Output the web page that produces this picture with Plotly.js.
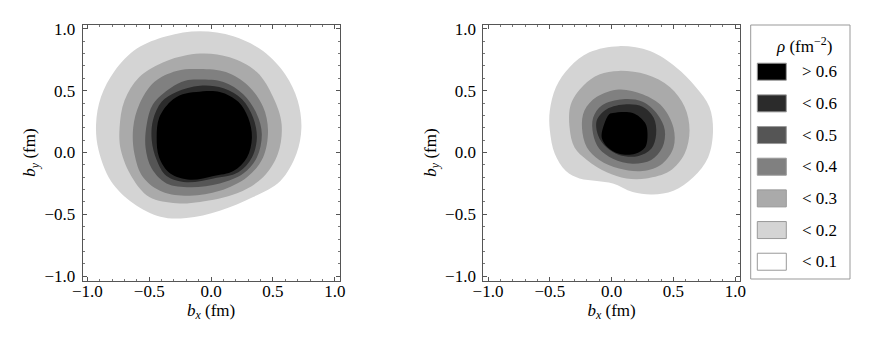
<!DOCTYPE html>
<html>
<head>
<meta charset="utf-8">
<script src="https://cdn.plot.ly/plotly-3.0.1.min.js"></script>
<style>
  body { margin: 0; background: white; }
  #chart { width: 872px; height: 339px; }
</style>
</head>
<body>
<div id="chart"></div>
<script>
// contour boundaries, [bx, by] in fm
// left panel
var leftRho01 = [[-0.09,0.98],[0.18,0.94],[0.42,0.82],[0.60,0.63],[0.70,0.42],[0.73,0.20],[0.69,-0.01],[0.56,-0.23],[0.34,-0.36],[0.07,-0.47],[-0.20,-0.53],[-0.41,-0.52],[-0.63,-0.41],[-0.81,-0.23],[-0.91,0.02],[-0.93,0.23],[-0.89,0.45],[-0.78,0.66],[-0.60,0.84],[-0.36,0.94]];
var leftRho02 = [[-0.09,0.80],[0.15,0.77],[0.37,0.65],[0.50,0.45],[0.57,0.23],[0.54,-0.01],[0.42,-0.20],[0.21,-0.33],[-0.09,-0.40],[-0.28,-0.41],[-0.50,-0.36],[-0.64,-0.20],[-0.73,0.02],[-0.74,0.20],[-0.70,0.42],[-0.58,0.61],[-0.36,0.74]];
var leftRho03 = [[-0.09,0.675],[0.12,0.65],[0.30,0.54],[0.42,0.37],[0.46,0.18],[0.42,-0.04],[0.29,-0.20],[0.07,-0.31],[-0.17,-0.35],[-0.39,-0.32],[-0.55,-0.20],[-0.62,-0.01],[-0.63,0.20],[-0.58,0.39],[-0.46,0.57],[-0.28,0.66]];
var leftRho04 = [[-0.09,0.59],[0.10,0.57],[0.26,0.47],[0.37,0.31],[0.41,0.15],[0.37,-0.04],[0.26,-0.17],[0.07,-0.25],[-0.17,-0.28],[-0.36,-0.25],[-0.48,-0.13],[-0.53,0.04],[-0.52,0.23],[-0.47,0.39],[-0.33,0.52],[-0.21,0.58]];
var leftRho05 = [[-0.09,0.54],[0.10,0.52],[0.25,0.43],[0.34,0.28],[0.37,0.12],[0.33,-0.04],[0.22,-0.16],[0.02,-0.21],[-0.20,-0.24],[-0.36,-0.19],[-0.44,-0.06],[-0.48,0.10],[-0.47,0.26],[-0.40,0.41],[-0.28,0.49]];
var leftRho06 = [[-0.12,0.49],[0.07,0.49],[0.22,0.41],[0.30,0.28],[0.33,0.12],[0.29,-0.04],[0.18,-0.15],[0.02,-0.19],[-0.17,-0.22],[-0.33,-0.17],[-0.42,-0.04],[-0.44,0.12],[-0.42,0.28],[-0.33,0.41],[-0.23,0.47]];
// right panel
var rightRho01 = [[0.06,0.86],[0.31,0.82],[0.52,0.69],[0.68,0.53],[0.79,0.37],[0.82,0.18],[0.78,-0.04],[0.66,-0.20],[0.50,-0.31],[0.33,-0.34],[0.17,-0.32],[0.01,-0.25],[-0.12,-0.23],[-0.26,-0.21],[-0.37,-0.15],[-0.46,-0.01],[-0.50,0.18],[-0.50,0.34],[-0.45,0.53],[-0.34,0.69],[-0.18,0.81]];
var rightRho02 = [[0.06,0.66],[0.28,0.63],[0.47,0.53],[0.59,0.37],[0.63,0.18],[0.59,-0.01],[0.47,-0.15],[0.28,-0.21],[0.12,-0.21],[-0.04,-0.16],[-0.20,-0.06],[-0.30,0.04],[-0.34,0.20],[-0.33,0.39],[-0.23,0.54],[-0.10,0.63]];
var rightRho03 = [[0.06,0.51],[0.25,0.47],[0.41,0.37],[0.50,0.20],[0.50,0.04],[0.41,-0.09],[0.25,-0.15],[0.06,-0.13],[-0.10,-0.06],[-0.20,0.04],[-0.24,0.20],[-0.22,0.34],[-0.12,0.45]];
var rightRho04 = [[0.09,0.43],[0.25,0.41],[0.37,0.31],[0.43,0.18],[0.41,0.04],[0.32,-0.06],[0.17,-0.09],[0.01,-0.05],[-0.10,0.03],[-0.15,0.15],[-0.15,0.28],[-0.08,0.38]];
var rightRho05 = [[0.12,0.39],[0.25,0.37],[0.34,0.28],[0.36,0.15],[0.32,0.03],[0.21,-0.03],[0.06,-0.02],[-0.04,0.04],[-0.11,0.14],[-0.12,0.26],[-0.04,0.35]];
var rightRho06 = [[0.01,0.32],[0.17,0.32],[0.27,0.24],[0.29,0.15],[0.27,0.04],[0.19,-0.01],[0.06,-0.01],[-0.03,0.04],[-0.08,0.12],[-0.06,0.23],[-0.02,0.31]];

var axisTicks = [-1, -0.5, 0, 0.5, 1];
var legendLabels = ['> 0.6', '< 0.6', '< 0.5', '< 0.4', '< 0.3', '< 0.2', '< 0.1'];

// fill shades, lowest level first
var shades = ['#d4d4d4', '#aaaaaa', '#808080', '#555555', '#2b2b2b', '#000000'];
var legendShades = ['#000000', '#2b2b2b', '#555555', '#808080', '#aaaaaa', '#d4d4d4', '#ffffff'];

function region(pts, color, xa, ya) {
  var xs = pts.map(function (p) { return p[0]; });
  var ys = pts.map(function (p) { return p[1]; });
  xs.push(xs[0]); ys.push(ys[0]);
  return {
    x: xs, y: ys, xaxis: xa, yaxis: ya,
    type: 'scatter', mode: 'lines', fill: 'toself',
    fillcolor: color,
    line: { color: color, width: 0, shape: 'spline', smoothing: 1 },
    hoverinfo: 'skip', showlegend: false
  };
}

var data = [];
[leftRho01, leftRho02, leftRho03, leftRho04, leftRho05, leftRho06].forEach(function (p, i) {
  data.push(region(p, shades[i], 'x', 'y'));
});
[rightRho01, rightRho02, rightRho03, rightRho04, rightRho05, rightRho06].forEach(function (p, i) {
  data.push(region(p, shades[i], 'x2', 'y2'));
});

var W = 872, H = 339;
var serif = '"Liberation Serif", "Times New Roman", Times, serif';

function frameAxis(domain, anchor, range, title, standoff, labelShift) {
  return {
    domain: domain, anchor: anchor, range: range,
    tickvals: axisTicks, tickformat: '.1f',
    ticks: 'inside', ticklen: 4, tickcolor: '#555', tickwidth: 1,
    minor: { ticks: 'inside', ticklen: 2, dtick: 0.1, tickcolor: '#777' },
    showline: true, linecolor: '#555', linewidth: 1, mirror: 'ticks',
    showgrid: false, zeroline: false,
    ticklabelstandoff: labelShift,
    tickfont: { family: serif, size: 17, color: '#000' },
    title: { text: title, standoff: standoff, font: { family: serif, size: 17, color: '#000' } }
  };
}

var yDom = [1 - 280.5 / H, 1 - 24.5 / H];
var xTitle = '<i>b</i><sub><i>x</i></sub> (fm)';
var yTitle = '<i>b</i><sub><i>y</i></sub> (fm)';

var layout = {
  width: W, height: H,
  margin: { l: 0, r: 0, t: 0, b: 0 },
  paper_bgcolor: 'white', plot_bgcolor: 'white',
  showlegend: false,
  font: { family: serif, size: 17, color: '#000' },
  xaxis: frameAxis([82.7 / W, 339.5 / W], 'y', [-1.038, 1.038], xTitle, 0, -5),
  yaxis: frameAxis(yDom, 'x', [-1.035, 1.035], yTitle, 4, 3),
  xaxis2: frameAxis([483.3 / W, 740 / W], 'y2', [-1.038, 1.038], xTitle, 0, -5),
  yaxis2: frameAxis(yDom, 'x2', [-1.035, 1.035], yTitle, 4, 3),
  shapes: [],
  annotations: []
};

// legend box drawn in paper space
var boxL = 750.7, boxR = 850, boxT = 25, boxB = 279;
layout.shapes.push({
  type: 'rect', xref: 'paper', yref: 'paper',
  x0: boxL / W, x1: boxR / W, y0: 1 - boxB / H, y1: 1 - boxT / H,
  line: { color: '#999', width: 1 }, fillcolor: 'white'
});
layout.annotations.push({
  xref: 'paper', yref: 'paper', x: 804 / W, y: 1 - 45 / H,
  xanchor: 'center', yanchor: 'middle',
  text: '<i>ρ</i> (fm<sup>−2</sup>)', showarrow: false,
  font: { family: serif, size: 17, color: '#000' }
});
legendLabels.forEach(function (lab, i) {
  var cy = 71.7 + i * 31.67;
  layout.shapes.push({
    type: 'rect', xref: 'paper', yref: 'paper',
    x0: 757.3 / W, x1: 786.3 / W, y0: 1 - (cy + 8.5) / H, y1: 1 - (cy - 8.5) / H,
    line: { color: '#999', width: 1 }, fillcolor: legendShades[i]
  });
  layout.annotations.push({
    xref: 'paper', yref: 'paper', x: 800 / W, y: 1 - cy / H,
    xanchor: 'left', yanchor: 'middle', text: lab, showarrow: false,
    font: { family: serif, size: 17, color: '#000' }
  });
});

Plotly.newPlot('chart', data, layout, { staticPlot: true });
</script>
</body>
</html>
